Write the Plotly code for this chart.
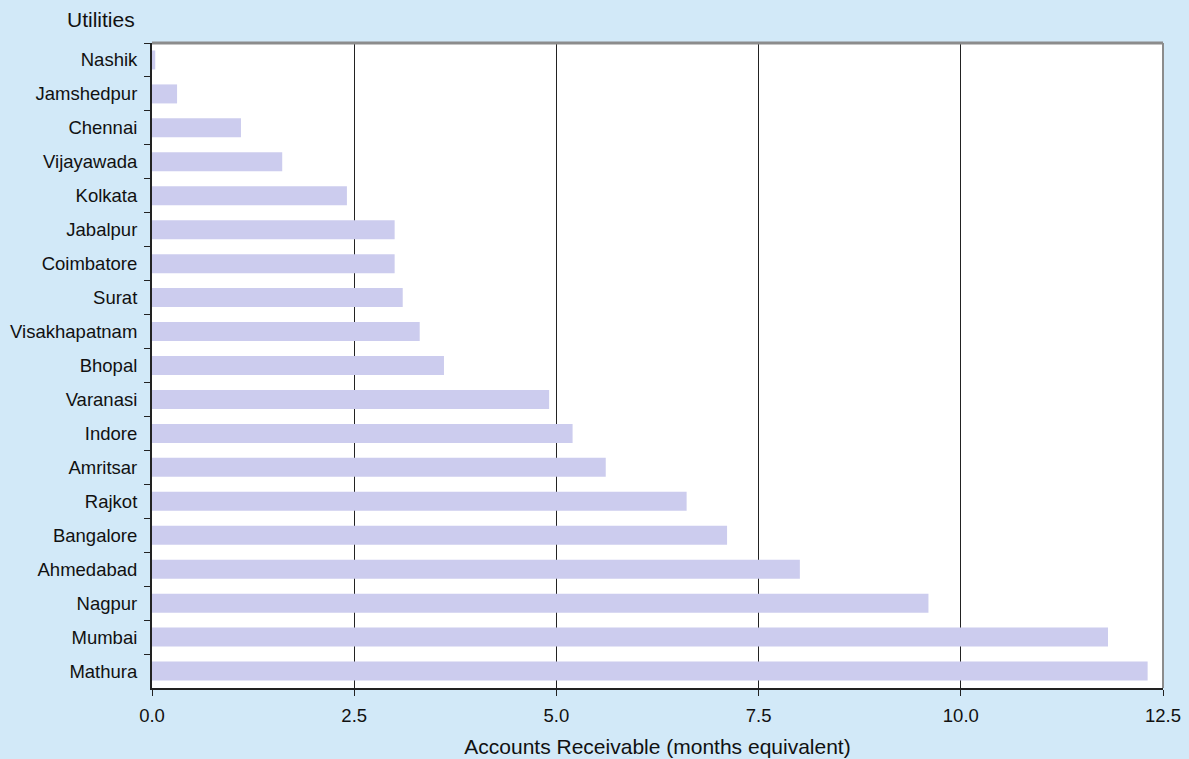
import plotly.graph_objects as go

cities = ["Nashik", "Jamshedpur", "Chennai", "Vijayawada", "Kolkata", "Jabalpur",
          "Coimbatore", "Surat", "Visakhapatnam", "Bhopal", "Varanasi", "Indore",
          "Amritsar", "Rajkot", "Bangalore", "Ahmedabad", "Nagpur", "Mumbai", "Mathura"]
values = [0.04, 0.31, 1.10, 1.61, 2.41, 3.00, 3.00, 3.10, 3.31, 3.61, 4.91, 5.20,
          5.61, 6.61, 7.11, 8.01, 9.60, 11.82, 12.31]
x_ticks = [0, 2.5, 5, 7.5, 10, 12.5]
x_tick_labels = ["0.0", "2.5", "5.0", "7.5", "10.0", "12.5"]

W, H = 1189, 759
ML, MR, MT, MB = 152, 26, 43, 71
PW, PH = W - ML - MR, H - MT - MB

fig = go.Figure(go.Bar(
    y=cities, x=values, orientation="h",
    marker=dict(color="#CCCCEE", line=dict(width=0)),
))

fig.update_layout(
    width=W, height=H,
    paper_bgcolor="#D2E9F8", plot_bgcolor="white",
    margin=dict(l=ML, r=MR, t=MT, b=MB, autoexpand=False),
    font=dict(family="Liberation Sans, Arial, sans-serif", size=18.5, color="#111111"),
    bargap=0.44,
    showlegend=False,
    annotations=[dict(text="Utilities", xref="paper", yref="paper",
                      x=(137 - ML) / PW, y=1 + (MT - 19) / PH,
                      xanchor="right", yanchor="middle",
                      showarrow=False, font=dict(size=21))],
)

fig.update_xaxes(
    range=[0, 12.5], tickvals=x_ticks, ticktext=x_tick_labels, automargin=False,
    showgrid=True, gridcolor="#222222", gridwidth=1, zeroline=False,
    showline=True, linecolor="#222222", linewidth=2,
    ticks="outside", ticklen=6, tickcolor="#222222", ticklabelstandoff=4,
    title=dict(text="Accounts Receivable (months equivalent)", standoff=14, font=dict(size=21)),
)
fig.update_yaxes(
    autorange="reversed", showgrid=False, automargin=False,
    showline=True, linecolor="#222222", linewidth=2,
    ticks="outside", ticklen=6, tickcolor="#222222", tickson="boundaries",
    ticklabelstandoff=9,
)
fig.add_shape(type="line", xref="paper", yref="paper", x0=0, x1=1, y0=1, y1=1,
              line=dict(color="#8C8C8C", width=3))
fig.add_shape(type="line", xref="paper", yref="paper", x0=1, x1=1, y0=0, y1=1,
              line=dict(color="#8C8C8C", width=2))

fig.write_html("out.html", config={"displayModeBar": False},
               post_script="document.body.style.margin='0';")
